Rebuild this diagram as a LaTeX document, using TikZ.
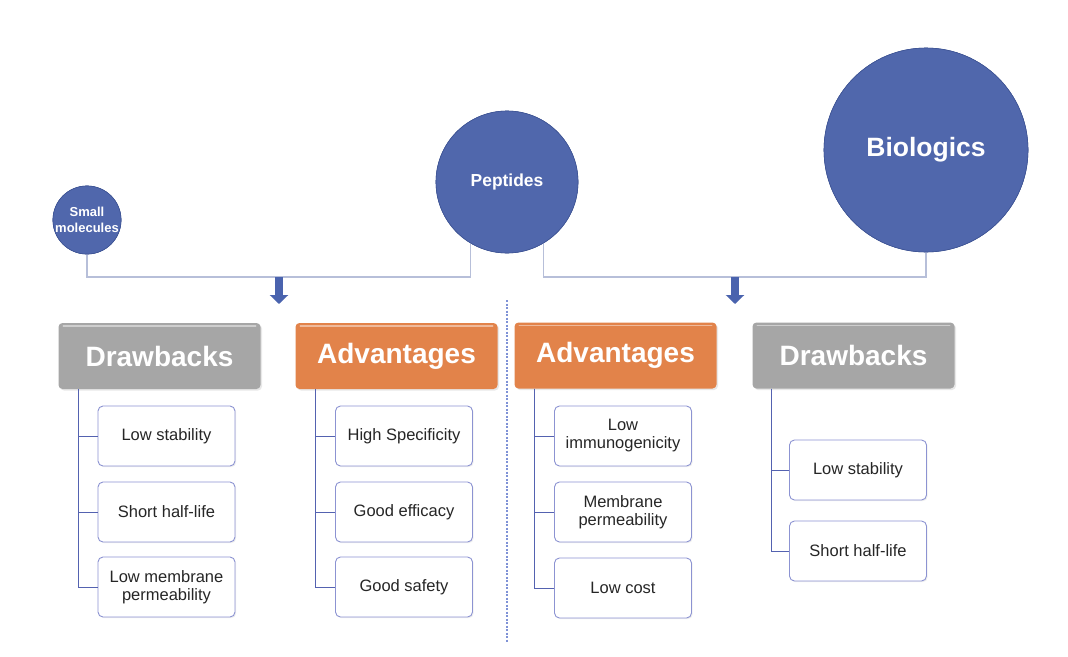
\documentclass[tikz,border=0pt]{standalone}
\usepackage{fontspec}
\setmainfont{Liberation Sans}
\usetikzlibrary{arrows.meta,calc,shadows}
\definecolor{circblue}{HTML}{5067AC}
\definecolor{circedge}{HTML}{3F5595}
\definecolor{hdrorange}{HTML}{E2834A}
\definecolor{hdrgray}{HTML}{A6A6A6}
\definecolor{treeblue}{HTML}{5462B0}
\definecolor{boxedge}{HTML}{8C93D2}
\definecolor{brack}{HTML}{B7BFD9}
\definecolor{arrowblue}{HTML}{4A63AE}
\definecolor{divblue}{HTML}{7F92D6}
\definecolor{txt}{HTML}{262626}
\tikzset{
  circ/.style={circle, fill=circblue, draw=circedge, line width=0.6pt, text=white, font=\bfseries, inner sep=0pt, align=center},
  smfont/.style={font=\fontsize{13}{15.5}\selectfont\bfseries},
  hdr/.style={rectangle, rounded corners=4pt, minimum width=202pt, minimum height=66pt, text=white,
    font=\fontsize{28}{30}\selectfont\bfseries, inner sep=0pt,
    drop shadow={opacity=0.18, shadow xshift=1.5pt, shadow yshift=-1.5pt}},
  sub/.style={rectangle, rounded corners=5pt, minimum width=137pt, minimum height=60pt, draw=boxedge,
    line width=0.9pt, fill=white, text=txt, align=center, inner sep=0pt,
    font=\fontsize{16.5}{18}\selectfont,
    drop shadow={opacity=0.12, shadow xshift=1.2pt, shadow yshift=-1.2pt}},
  tree/.style={draw=treeblue, line width=1pt},
  bracket/.style={draw=brack, line width=1.2pt},
  bigarrow/.style={draw=arrowblue, line width=8pt, -{Triangle[width=18pt,length=9pt]}},
  divider/.style={draw=divblue, line width=1.3pt, dash pattern=on 2pt off 1.5pt},
  hilite/.style={draw=white, opacity=0.45, line width=1.5pt, line cap=round}
}
\begin{document}
\begin{tikzpicture}[x=1pt,y=-1pt]
\useasboundingbox[fill=white] (0,0) rectangle (1068,656);

% connector coordinates
\coordinate (lb) at (279,277);
\coordinate (la) at (279,304);
\coordinate (rb) at (735,277);
\coordinate (ra) at (735,304);
\coordinate (dvt) at (507,300);
\coordinate (dvb) at (507,642);

% circles
\node[circ, minimum size=67pt, smfont] (sm) at (87,220) {Small\\molecules};
\node[circ, minimum size=142pt, font=\fontsize{17.4}{19}\selectfont\bfseries] (pep) at (507,182) {Peptides};
\node[circ, minimum size=204pt, font=\fontsize{26.5}{28}\selectfont\bfseries] (bio) at (926,150) {Biologics};

\draw[bracket] (sm.south) |- (lb) -| (pep.-121);
\draw[bracket] (pep.-59.5) |- (rb) -| (bio.south);
% redraw circles over bracket ends
\node[circ, minimum size=142pt, font=\fontsize{17.4}{19}\selectfont\bfseries] at (pep) {Peptides};
\node[circ, minimum size=204pt, font=\fontsize{26.5}{28}\selectfont\bfseries] at (bio) {Biologics};
\node[circ, minimum size=67pt, smfont] at (sm) {Small\\molecules};

\draw[bigarrow] (lb) -- (la);
\draw[bigarrow] (rb) -- (ra);
\draw[divider] (dvt) -- (dvb);

% headers
\node[hdr, fill=hdrgray] (d1) at (159.5,356) {Drawbacks};
\node[hdr, fill=hdrorange] (a1) at (396.5,356) {Advantages};
\node[hdr, fill=hdrorange] (a2) at (615.5,355.5) {Advantages};
\node[hdr, fill=hdrgray] (d2) at (853.5,355.5) {Drawbacks};
\foreach \h in {d1,a1,a2,d2}{
  \draw[hilite] ($(\h.north west)+(5,3)$) -- ($(\h.north east)+(-5,3)$);
}

% sub boxes
\node[sub] (s11) at (166.5,436) {Low stability};
\node[sub] (s12) at (166.5,512) {Short half-life};
\node[sub] (s13) at (166.5,587) {Low membrane\\permeability};

\node[sub] (s21) at (404,436) {High Specificity};
\node[sub] (s22) at (404,512) {Good efficacy};
\node[sub] (s23) at (404,587) {Good safety};

\node[sub] (s31) at (623,436) {Low\\immunogenicity};
\node[sub] (s32) at (623,512) {Membrane\\permeability};
\node[sub] (s33) at (623,588) {Low cost};

\node[sub] (s41) at (858,470) {Low stability};
\node[sub] (s42) at (858,551) {Short half-life};

% trees
\foreach \s in {s11,s12,s13}{ \draw[tree] ($(d1.south west)+(20,0)$) |- (\s.west); }
\foreach \s in {s21,s22,s23}{ \draw[tree] ($(a1.south west)+(20,0)$) |- (\s.west); }
\foreach \s in {s31,s32,s33}{ \draw[tree] ($(a2.south west)+(20,0)$) |- (\s.west); }
\foreach \s in {s41,s42}{ \draw[tree] ($(d2.south west)+(19,0)$) |- (\s.west); }
\end{tikzpicture}
\end{document}
